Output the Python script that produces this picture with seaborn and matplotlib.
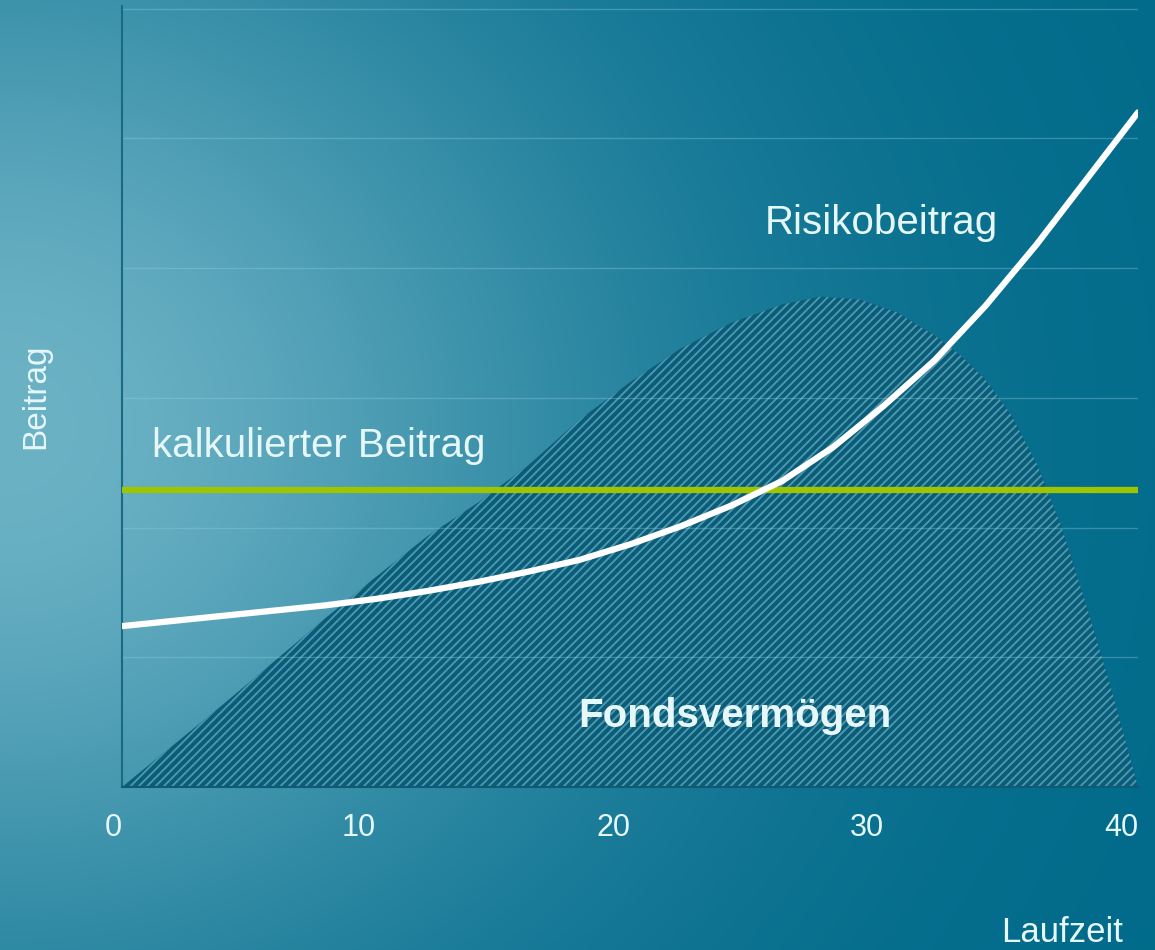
import numpy as np
import pandas as pd
import matplotlib
matplotlib.use("Agg")
import matplotlib.pyplot as plt
import seaborn as sns

# values
laufzeit_fonds = [0, 2, 4, 6, 8, 10, 12, 14, 16, 18, 20, 22, 24, 26, 27.5, 29, 30.5, 32, 33, 34, 35, 36, 37, 38, 39, 40]
fondsvermoegen = [0, 0.32, 0.64, 0.97, 1.30, 1.62, 1.93, 2.19, 2.48, 2.83, 3.12, 3.38, 3.58, 3.72, 3.78, 3.76,
                  3.66, 3.48, 3.33, 3.14, 2.87, 2.50, 2.00, 1.38, 0.72, 0]

laufzeit_risiko = [0, 2, 4, 6, 8, 10, 12, 14, 16, 18, 20, 22, 24, 26, 28, 30, 32, 34, 36, 38, 40]
risikobeitrag = [1.24, 1.28, 1.32, 1.36, 1.40, 1.45, 1.51, 1.58, 1.66, 1.75, 1.87, 2.01, 2.17, 2.36, 2.62,
                 2.94, 3.29, 3.71, 4.18, 4.69, 5.2]

laufzeit_kalk = [0, 40]
kalk_beitrag = [2.29, 2.29]

x_ticks = [0, 10, 20, 30, 40]
grid_levels = [1, 2, 3, 4, 5, 6]

text_col = "#e6f7fa"
sns.set_theme(style="white")
plt.rcParams["font.family"] = ["Liberation Sans", "DejaVu Sans"]
plt.rcParams["hatch.linewidth"] = 1.4

fig = plt.figure(figsize=(11.55, 9.5), dpi=100)

# background gradient, light on the left middle, dark teal to the right
bg = fig.add_axes([0, 0, 1, 1])
h, w = 950, 1155
yy, xx = np.mgrid[0:h, 0:w]
wgt = np.exp(-((xx / w) / 0.55) ** 2 - ((yy / h - 0.45) / 0.6) ** 2)
light = np.array([108, 178, 197]) / 255
dark = np.array([0, 106, 138]) / 255
img = dark + (light - dark) * wgt[..., None]
bg.imshow(img, aspect="auto", extent=[0, 1, 0, 1])
bg.set_axis_off()

ax = fig.add_axes([122 / 1155, 163 / 950, 1016 / 1155, 781 / 950])
ax.set_facecolor("none")

fonds = pd.DataFrame({"Laufzeit": laufzeit_fonds, "Fonds": fondsvermoegen})
risiko = pd.DataFrame({"Laufzeit": laufzeit_risiko, "Risiko": risikobeitrag})
kalk = pd.DataFrame({"Laufzeit": laufzeit_kalk, "Beitrag": kalk_beitrag})

ax.fill_between(fonds["Laufzeit"], 0, fonds["Fonds"], facecolor="#0d5c77",
                edgecolor="#4799b1", hatch="////", linewidth=0, zorder=1)

for g in grid_levels:
    ax.axhline(g, color="#8fd0e0", lw=1.0, alpha=0.35, zorder=2)

sns.lineplot(data=kalk, x="Laufzeit", y="Beitrag", ax=ax, color="#9fc400", lw=4.5, zorder=3)
sns.lineplot(data=risiko, x="Laufzeit", y="Risiko", ax=ax, color="white", lw=4.5, zorder=4)

ax.set_xlim(0, 40)
ax.set_ylim(0, 6.02)
ax.set_xticks(x_ticks)
ax.set_xticklabels([str(t) for t in x_ticks], ha="right")
ax.set_yticks([])
ax.tick_params(axis="x", length=0, pad=19, labelsize=22, labelcolor=text_col)
for s in ["top", "right"]:
    ax.spines[s].set_visible(False)
ax.spines["left"].set_color("#1b6a84")
ax.spines["bottom"].set_color("#0f5b74")
ax.spines["left"].set_linewidth(1.5)
ax.spines["bottom"].set_linewidth(1.5)

ax.set_xlabel("Laufzeit", fontsize=25, color=text_col, ha="right", va="center")
ax.xaxis.set_label_coords(0.985, -0.186)
ax.set_ylabel("Beitrag", fontsize=24, color=text_col, va="center")
ax.yaxis.set_label_coords(-0.085, 0.5)

ax.text(1.18, 2.63, "kalkulierter Beitrag", fontsize=29, color=text_col, va="center", ha="left")
ax.text(25.3, 4.35, "Risikobeitrag", fontsize=29, color=text_col, va="center", ha="left")
ax.text(17.95, 0.55, "Fondsvermögen", fontsize=29, fontweight="bold", color=text_col,
        va="center", ha="left", zorder=5)

fig.savefig("out.png", dpi=100)
